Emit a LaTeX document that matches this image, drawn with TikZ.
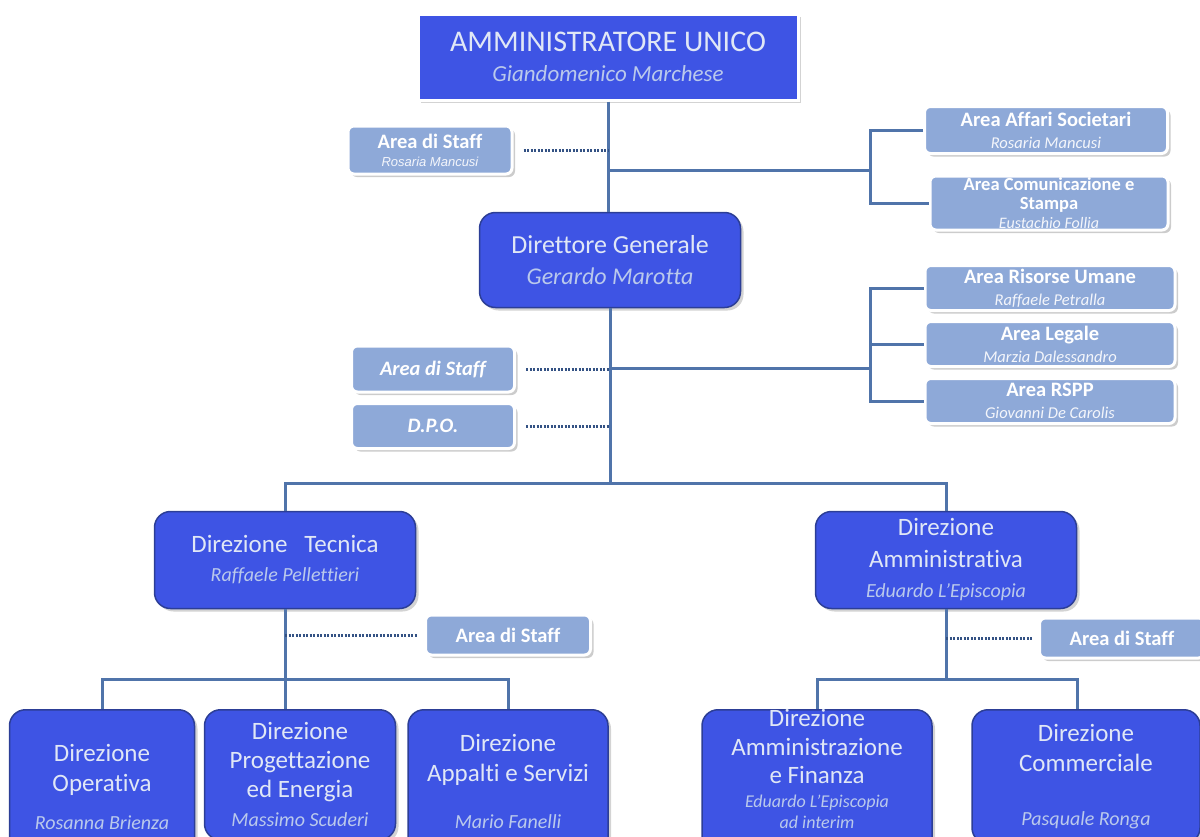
\documentclass[tikz,border=0pt]{standalone}
\usepackage{fontspec}
\setmainfont{Carlito}[Ligatures=NoCommon]
\newfontfamily\arialfont{Liberation Sans}
\usetikzlibrary{shadows,positioning}

\definecolor{capoblu}{RGB}{62,84,228}
\definecolor{bordoblu}{RGB}{44,62,150}
\definecolor{areablu}{RGB}{142,169,216}
\definecolor{lineablu}{RGB}{80,116,170}
\definecolor{puntiblu}{RGB}{52,82,132}
\definecolor{testochiaro}{RGB}{224,231,246}
\definecolor{nomechiaro}{RGB}{186,201,236}

\newcommand\nomefont{\color{nomechiaro}\itshape}
\newcommand\nomearea{\color{white!90!areablu}\itshape}

\tikzset{
  capo/.style={fill=capoblu, draw=bordoblu, line width=1.5pt, rounded corners=16pt,
    align=center, text=testochiaro, inner sep=2pt,
    drop shadow={opacity=0.35, shadow xshift=3pt, shadow yshift=-3pt}},
  vertice/.style={capo, rounded corners=0pt, draw=white, line width=3pt},
  area/.style={fill=areablu, draw=white, line width=3pt, rounded corners=6pt,
    align=center, text=white, inner sep=1pt,
    font=\bfseries\fontsize{20.5}{22}\selectfont,
    drop shadow={opacity=0.4, shadow xshift=3pt, shadow yshift=-3pt}},
  linea/.style={draw=lineablu, line width=3pt},
  puntini/.style={draw=puntiblu, line width=3pt, dash pattern=on 2pt off 1.5pt},
}

\begin{document}
\begin{tikzpicture}[x=1pt, y=-1pt]
  \useasboundingbox (0,0) rectangle (1200,836);
  \clip (0,0) rectangle (1200,836);

  %%%%% vertice %%%%%
  \node[vertice, minimum width=380, minimum height=86, font=\fontsize{30}{34}\selectfont]
    (au) at (608,57) {AMMINISTRATORE UNICO\\[-4pt]{\nomefont\fontsize{23}{26}\selectfont Giandomenico Marchese}};
  \node[area, minimum width=164, minimum height=48] (staffau) at (430,150)
    {Area di Staff\\[-4pt]{\mdseries\arialfont\nomearea\fontsize{13}{15}\selectfont Rosaria Mancusi}};
  \node[area, minimum width=243, minimum height=47] (affari) at (1046,130)
    {Area Affari Societari\\[0pt]{\mdseries\nomearea\fontsize{16.5}{18}\selectfont Rosaria Mancusi}};
  \node[area, minimum width=238, minimum height=54, font=\bfseries\fontsize{18.5}{19}\selectfont] (comunic) at (1049,203)
    {Area Comunicazione e\\Stampa\\{\mdseries\nomearea\fontsize{16}{16}\selectfont Eustachio Follia}};

  %%%%% direzione generale %%%%%
  \node[capo, minimum width=261, minimum height=95, font=\fontsize{26}{30}\selectfont]
    (dg) at (610,260) {Direttore Generale\\[1pt]{\nomefont\fontsize{24}{27}\selectfont Gerardo Marotta}};
  \node[area, minimum width=163, minimum height=46, font=\bfseries\itshape\fontsize{20.5}{22}\selectfont] (staffdg) at (433,369) {Area di Staff};
  \node[area, minimum width=163, minimum height=45, font=\bfseries\itshape\fontsize{20.5}{22}\selectfont] (dpo) at (433,426) {D.P.O.};
  \node[area, minimum width=250, minimum height=45] (risorse) at (1050,288)
    {Area Risorse Umane\\[0pt]{\mdseries\nomearea\fontsize{16.5}{18}\selectfont Raffaele Petralla}};
  \node[area, minimum width=250, minimum height=45] (legale) at (1050,344)
    {Area Legale\\[0pt]{\mdseries\nomearea\fontsize{16.5}{18}\selectfont Marzia Dalessandro}};
  \node[area, minimum width=250, minimum height=45] (rspp) at (1050,401)
    {Area RSPP\\[0pt]{\mdseries\nomearea\fontsize{16.5}{18}\selectfont Giovanni De Carolis}};

  %%%%% direzioni %%%%%
  \node[capo, minimum width=261, minimum height=97, font=\fontsize{25}{29}\selectfont]
    (dt) at (285,560) {Direzione\ \ \ Tecnica\\{\nomefont\fontsize{20}{23}\selectfont Raffaele Pellettieri}};
  \node[capo, minimum width=261, minimum height=97, font=\fontsize{25}{32}\selectfont]
    (da) at (946,560) {Direzione\\Amministrativa\\[-2pt]{\nomefont\fontsize{20}{23}\selectfont Eduardo L'Episcopia}};
  \node[area, minimum width=165, minimum height=40] (stafft) at (508,635) {Area di Staff};
  \node[area, minimum width=165, minimum height=40] (staffa) at (1122,638) {Area di Staff};

  %%%%% uffici %%%%%
  \node[capo, anchor=north, minimum width=185, minimum height=154, font=\fontsize{25}{30}\selectfont]
    (do) at (102,709) {Direzione\\Operativa\\[8pt]{\nomefont\fontsize{20}{23}\selectfont Rosanna Brienza}};
  \node[capo, anchor=north, minimum width=191, minimum height=130, font=\fontsize{25}{29}\selectfont]
    (dp) at (300,709) {Direzione\\Progettazione\\ed Energia\\{\nomefont\fontsize{20}{23}\selectfont Massimo Scuderi}};
  \node[capo, anchor=north, minimum width=200, minimum height=144, font=\fontsize{25}{30}\selectfont]
    (das) at (508,709) {Direzione\\Appalti e Servizi\\[17pt]{\nomefont\fontsize{20}{23}\selectfont Mario Fanelli}};
  \node[capo, anchor=north, minimum width=230, inner ysep=0pt, font=\fontsize{25}{28.5}\selectfont]
    (daf) at (817,709) {Direzione\\Amministrazione\\e Finanza\\[-5pt]{\nomefont\fontsize{18}{20}\selectfont Eduardo L'Episcopia}\\[-7pt]{\nomefont\fontsize{18}{20}\selectfont ad interim}\\[6pt]};
  \node[capo, anchor=north, minimum width=228, minimum height=134, font=\fontsize{25}{30}\selectfont]
    (dc) at (1086,709) {Direzione\\Commerciale\\[24pt]{\nomefont\fontsize{20}{23}\selectfont Pasquale Ronga}};

  %%%%% collegamenti %%%%%
  \draw[linea] (au.south) -- (au.south |- dg.north);
  \draw[puntini] ([xshift=10pt]staffau.east) -- (staffau.east -| au.south);
  \coordinate (ramo1) at (870,170);
  \draw[linea] (ramo1 -| au.south) -- (ramo1);
  \draw[linea] (affari.west) -| (ramo1) |- (comunic.west);

  \coordinate (barra) at (610,483);
  \draw[linea] (dg.south) -- (barra);
  \draw[puntini] ([xshift=10pt]staffdg.east) -- (staffdg.east -| dg.south);
  \draw[puntini] ([xshift=10pt]dpo.east) -- (dpo.east -| dg.south);
  \coordinate (ramo2) at (870,368);
  \draw[linea] (ramo2 -| dg.south) -- (ramo2);
  \draw[linea] (risorse.west) -| (ramo2) |- (rspp.west);
  \draw[linea] (legale.west) -- (legale.west -| ramo2);

  \draw[linea] (dt.north) |- (barra) -| (da.north);

  \draw[linea] (dt.south) -- ++(0,70) coordinate (barrat);
  \draw[puntini] (dt.south |- stafft.west) -- ([xshift=-6pt]stafft.west);
  \draw[linea] (do.north) |- (barrat) -| (das.north);
  \draw[linea] (barrat) -- (barrat |- dp.north);

  \draw[linea] (da.south) -- ++(0,70) coordinate (barraa);
  \draw[puntini] (da.south |- staffa.west) -- ([xshift=-6pt]staffa.west);
  \draw[linea] (daf.north) |- (barraa) -| (dc.north -| da.east);
\end{tikzpicture}
\end{document}
